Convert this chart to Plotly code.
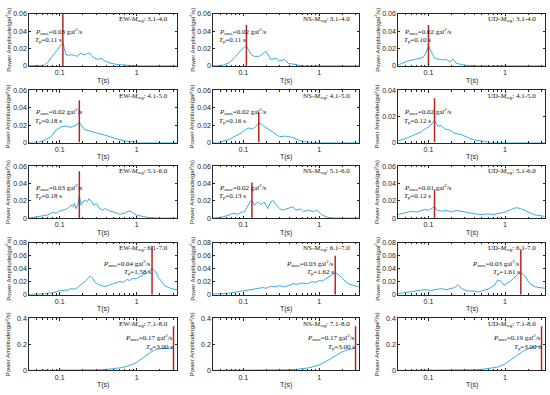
import numpy as np
import plotly.graph_objects as go

# ---------------- data ----------------
components = ["EW", "NS", "UD"]
magnitude_bins = ["3.1-4.0", "4.1-5.0", "5.1-6.0", "6.1-7.0", "7.1-8.0"]

pmax_values = [["0.03", "0.02", "0.02"],
               ["0.02", "0.02", "0.02"],
               ["0.03", "0.02", "0.01"],
               ["0.04", "0.03", "0.03"],
               ["0.17", "0.17", "0.19"]]
tp_values = [[0.11, 0.11, 0.10],
             [0.18, 0.16, 0.12],
             [0.18, 0.13, 0.12],
             [1.58, 1.62, 1.61],
             [3.00, 3.00, 3.00]]
tp_labels = [["0.11", "0.11", "0.10"],
             ["0.18", "0.16", "0.12"],
             ["0.18", "0.13", "0.12"],
             ["1.58", "1.62", "1.61"],
             ["3.00", "3.00", "3.00"]]
peak_line_top = [[0.06, 0.047, 0.047],
                 [0.0486, 0.035, 0.034],
                 [0.054, 0.041, 0.033],
                 [0.075, 0.06, 0.069],
                 [0.34, 0.34, 0.34]]
y_max = [[0.06, 0.06, 0.06],
         [0.06, 0.06, 0.04],
         [0.06, 0.06, 0.06],
         [0.08, 0.08, 0.08],
         [0.4, 0.4, 0.4]]
y_ticks = [[[0, 0.02, 0.04, 0.06]] * 3,
           [[0, 0.02, 0.04, 0.06], [0, 0.02, 0.04, 0.06], [0, 0.02, 0.04]],
           [[0, 0.02, 0.04, 0.06]] * 3,
           [[0, 0.02, 0.04, 0.06, 0.08]] * 3,
           [[0, 0.2, 0.4]] * 3]
x_tick_vals = [0.1, 1]
x_tick_text = ["0.1", "1"]

# row 1 (M 3.1-4.0)
T_EW1 = [0.04, 0.05, 0.06, 0.063, 0.07, 0.077, 0.085, 0.094, 0.10, 0.105, 0.11, 0.115, 0.12, 0.13, 0.14,
         0.155, 0.171, 0.18, 0.189, 0.20, 0.22, 0.243, 0.26, 0.28, 0.31, 0.344, 0.38, 0.46, 0.57, 0.77,
         1.0, 2.0, 3.3]
A_EW1 = [0.0, 0.0, 0.0003, 0.0008, 0.004, 0.0094, 0.014, 0.019, 0.022, 0.025, 0.027, 0.02, 0.0135, 0.012,
         0.013, 0.012, 0.011, 0.0135, 0.015, 0.013, 0.0135, 0.015, 0.012, 0.009, 0.0075, 0.009, 0.006,
         0.003, 0.0015, 0.0005, 0.0, 0.0, 0.0]
T_NS1 = [0.04, 0.044, 0.055, 0.066, 0.08, 0.094, 0.103, 0.11, 0.118, 0.127, 0.14, 0.163, 0.19, 0.20,
         0.23, 0.27, 0.30, 0.35, 0.39, 0.45, 0.61, 1.0, 2.0, 3.3]
A_NS1 = [0.0, 0.0, 0.001, 0.0037, 0.011, 0.0185, 0.021, 0.023, 0.018, 0.013, 0.011, 0.011, 0.0156,
         0.0167, 0.0074, 0.009, 0.0056, 0.0074, 0.003, 0.002, 0.0, 0.0, 0.0, 0.0]
T_UD1 = [0.04, 0.054, 0.066, 0.08, 0.088, 0.094, 0.10, 0.11, 0.12, 0.14, 0.163, 0.17, 0.19, 0.21,
         0.23, 0.30, 0.45, 1.0, 3.3]
A_UD1 = [0.001, 0.0056, 0.0074, 0.009, 0.011, 0.016, 0.023, 0.015, 0.009, 0.0074, 0.0068, 0.008,
         0.0045, 0.008, 0.003, 0.0008, 0.0, 0.0, 0.0]

# row 2 (M 4.1-5.0)
T_EW2 = [0.04, 0.052, 0.063, 0.077, 0.09, 0.104, 0.121, 0.14, 0.163, 0.18, 0.21, 0.256, 0.31, 0.38,
         0.46, 0.57, 0.69, 0.85, 1.05, 2.0, 3.3]
A_EW2 = [0.0, 0.0003, 0.0023, 0.0068, 0.0144, 0.018, 0.019, 0.0175, 0.020, 0.023, 0.015, 0.0125,
         0.0106, 0.0087, 0.006, 0.0038, 0.002, 0.0008, 0.0, 0.0, 0.0]
T_NS2 = [0.04, 0.049, 0.066, 0.08, 0.094, 0.11, 0.12, 0.133, 0.147, 0.16, 0.19, 0.21, 0.25, 0.30,
         0.36, 0.45, 0.54, 0.66, 0.8, 1.5, 3.3]
A_NS2 = [0.0, 0.0002, 0.0037, 0.0074, 0.011, 0.0156, 0.0167, 0.0156, 0.0185, 0.023, 0.0185, 0.0156,
         0.011, 0.0067, 0.0074, 0.0056, 0.0026, 0.0008, 0.0, 0.0, 0.0]
T_UD2 = [0.04, 0.054, 0.066, 0.08, 0.088, 0.104, 0.115, 0.12, 0.133, 0.147, 0.163, 0.19, 0.22, 0.27,
         0.33, 0.40, 0.54, 0.66, 1.0, 3.3]
A_UD2 = [0.0012, 0.0037, 0.006, 0.008, 0.01, 0.0125, 0.0155, 0.017, 0.0125, 0.013, 0.0105, 0.0095,
         0.007, 0.006, 0.0037, 0.002, 0.0008, 0.0, 0.0, 0.0]

# row 3 (M 5.1-6.0)
T_EW3 = [0.04, 0.058, 0.07, 0.081, 0.09, 0.099, 0.114, 0.127, 0.133, 0.14, 0.148, 0.155, 0.163, 0.172,
         0.18, 0.19, 0.20, 0.215, 0.23, 0.24, 0.26, 0.275, 0.30, 0.33, 0.36, 0.39, 0.45, 0.52, 0.60,
         0.70, 0.77, 0.85, 0.97, 1.17, 1.4, 1.9, 3.3]
A_EW3 = [0.0, 0.0019, 0.0037, 0.0067, 0.0056, 0.008, 0.01, 0.011, 0.013, 0.015, 0.013, 0.017, 0.011,
         0.0158, 0.0255, 0.015, 0.019, 0.0206, 0.019, 0.0225, 0.019, 0.015, 0.017, 0.011, 0.0093, 0.011,
         0.008, 0.0067, 0.0045, 0.0056, 0.008, 0.0075, 0.0037, 0.0019, 0.0008, 0.0, 0.0]
T_NS3 = [0.04, 0.054, 0.066, 0.073, 0.085, 0.094, 0.104, 0.115, 0.124, 0.13, 0.14, 0.155, 0.17, 0.19,
         0.21, 0.23, 0.245, 0.27, 0.30, 0.33, 0.38, 0.45, 0.49, 0.57, 0.62, 0.73, 0.84, 0.93, 1.08,
         1.3, 1.6, 3.3]
A_NS3 = [0.0, 0.0015, 0.0037, 0.0056, 0.0044, 0.0067, 0.0074, 0.0148, 0.0195, 0.0204, 0.0148, 0.0185,
         0.0156, 0.0185, 0.011, 0.0185, 0.0204, 0.0155, 0.011, 0.0093, 0.011, 0.013, 0.0093, 0.0104,
         0.0074, 0.0093, 0.0074, 0.0093, 0.0037, 0.0008, 0.0, 0.0]
T_UD3 = [0.04, 0.05, 0.06, 0.07, 0.08, 0.09, 0.10, 0.11, 0.12, 0.13, 0.15, 0.17, 0.20, 0.23, 0.26,
         0.30, 0.35, 0.40, 0.50, 0.60, 0.70, 0.80, 1.0, 1.2, 1.4, 1.6, 1.8, 2.0, 2.4, 3.3]
A_UD3 = [0.004, 0.006, 0.008, 0.007, 0.009, 0.010, 0.009, 0.011, 0.013, 0.009, 0.008, 0.009, 0.007,
         0.009, 0.008, 0.007, 0.006, 0.005, 0.004, 0.005, 0.004, 0.005, 0.007, 0.010, 0.012, 0.011,
         0.009, 0.007, 0.004, 0.002]

# row 4 (M 6.1-7.0)
T_EW4 = [0.04, 0.063, 0.084, 0.1, 0.127, 0.14, 0.155, 0.171, 0.19, 0.20, 0.22, 0.235, 0.25, 0.265,
         0.29, 0.32, 0.35, 0.39, 0.42, 0.46, 0.51, 0.56, 0.61, 0.67, 0.74, 0.81, 0.89, 0.98, 1.07, 1.24,
         1.36, 1.49, 1.58, 1.75, 1.9, 2.3, 2.8, 3.3]
A_EW4 = [0.0005, 0.0014, 0.0033, 0.0065, 0.0071, 0.0094, 0.0085, 0.011, 0.016, 0.0175, 0.022, 0.025,
         0.029, 0.026, 0.0185, 0.0155, 0.014, 0.0125, 0.014, 0.016, 0.0175, 0.019, 0.0205, 0.019, 0.0235,
         0.022, 0.025, 0.0245, 0.027, 0.031, 0.034, 0.038, 0.040, 0.036, 0.027, 0.014, 0.0094, 0.008]
T_NS4 = [0.04, 0.06, 0.08, 0.1, 0.12, 0.15, 0.18, 0.2, 0.23, 0.26, 0.3, 0.35, 0.4, 0.45, 0.5, 0.6,
         0.7, 0.8, 0.9, 1.0, 1.1, 1.3, 1.5, 1.62, 1.8, 2.0, 2.4, 3.3]
A_NS4 = [0.001, 0.002, 0.004, 0.006, 0.008, 0.009, 0.011, 0.010, 0.013, 0.012, 0.014, 0.012, 0.015,
         0.017, 0.016, 0.018, 0.017, 0.020, 0.019, 0.022, 0.021, 0.027, 0.032, 0.034, 0.031, 0.025,
         0.017, 0.012]
T_UD4 = [0.04, 0.054, 0.073, 0.088, 0.11, 0.133, 0.147, 0.17, 0.20, 0.22, 0.245, 0.27, 0.33, 0.40,
         0.45, 0.54, 0.62, 0.73, 0.80, 0.88, 0.97, 1.1, 1.3, 1.5, 1.61, 1.82, 2.1, 2.5, 2.9, 3.3]
A_UD4 = [0.0016, 0.0042, 0.0058, 0.0078, 0.0068, 0.0078, 0.0094, 0.0078, 0.0094, 0.011, 0.0157,
         0.0094, 0.0058, 0.0058, 0.0042, 0.0068, 0.0094, 0.0146, 0.0225, 0.0214, 0.0146, 0.0183,
         0.025, 0.033, 0.034, 0.0288, 0.0173, 0.012, 0.011, 0.010]

# row 5 (M 7.1-8.0)
T_EW5 = [0.04, 0.1, 0.2, 0.3, 0.4, 0.5, 0.6, 0.7, 0.8, 0.9, 1.0, 1.1, 1.2, 1.35, 1.5, 1.7, 1.9, 2.2,
         2.6, 3.0]
A_EW5 = [0.0, 0.0005, 0.002, 0.004, 0.007, 0.012, 0.019, 0.027, 0.036, 0.048, 0.062, 0.08, 0.098,
         0.12, 0.138, 0.155, 0.164, 0.169, 0.17, 0.17]
T_NS5 = [0.04, 0.1, 0.2, 0.3, 0.4, 0.5, 0.6, 0.7, 0.8, 0.9, 1.0, 1.2, 1.4, 1.6, 1.8, 2.0, 2.4, 2.7, 3.0]
A_NS5 = [0.0, 0.0005, 0.0015, 0.003, 0.005, 0.008, 0.012, 0.018, 0.025, 0.033, 0.043, 0.065, 0.09,
         0.112, 0.13, 0.143, 0.16, 0.167, 0.17]
T_UD5 = [0.04, 0.1, 0.2, 0.3, 0.4, 0.5, 0.6, 0.7, 0.8, 0.97, 1.17, 1.4, 1.7, 2.1, 2.5, 3.0]
A_UD5 = [0.0, 0.0003, 0.001, 0.003, 0.005, 0.008, 0.0125, 0.018, 0.025, 0.045, 0.075, 0.11, 0.145,
         0.17, 0.182, 0.19]

periods = [[T_EW1, T_NS1, T_UD1], [T_EW2, T_NS2, T_UD2], [T_EW3, T_NS3, T_UD3],
           [T_EW4, T_NS4, T_UD4], [T_EW5, T_NS5, T_UD5]]
amplitudes = [[A_EW1, A_NS1, A_UD1], [A_EW2, A_NS2, A_UD2], [A_EW3, A_NS3, A_UD3],
              [A_EW4, A_NS4, A_UD4], [A_EW5, A_NS5, A_UD5]]

# ---------------- styling / layout ----------------
W, H = 550, 395
BLUE = "#38ade0"
RED = "#b3261e"
AXC = "#262626"
SANS = "Liberation Sans, Arial, sans-serif"
SERIF = "Liberation Serif, Times New Roman, serif"

col_px = [(29, 177), (213, 359), (398, 545)]
row_px = [(10, 63), (88, 141), (165, 218), (243, 296), (320, 373)]
x_range = [np.log10(0.04), np.log10(3.33)]
minor_vals = [0.04, 0.05, 0.06, 0.07, 0.08, 0.09, 0.2, 0.3, 0.4, 0.5, 0.6, 0.7, 0.8, 0.9, 2, 3]

fig = go.Figure()
annotations = []
layout = {}

for r in range(5):
    for c in range(3):
        k = r * 3 + c + 1
        xn = "x" if k == 1 else f"x{k}"
        yn = "y" if k == 1 else f"y{k}"
        xkey = "xaxis" if k == 1 else f"xaxis{k}"
        ykey = "yaxis" if k == 1 else f"yaxis{k}"
        x0, x1 = col_px[c]
        t0, t1 = row_px[r]

        fig.add_trace(go.Scatter(x=periods[r][c], y=amplitudes[r][c], mode="lines",
                                 line=dict(color=BLUE, width=1), xaxis=xn, yaxis=yn,
                                 showlegend=False, hoverinfo="skip"))
        tp = tp_values[r][c]
        fig.add_trace(go.Scatter(x=[tp, tp], y=[0, peak_line_top[r][c]], mode="lines",
                                 line=dict(color=RED, width=1.5), xaxis=xn, yaxis=yn,
                                 showlegend=False, hoverinfo="skip"))

        layout[xkey] = dict(type="log", range=x_range, domain=[x0 / W, x1 / W], anchor=yn,
                            tickmode="array", tickvals=x_tick_vals, ticktext=x_tick_text,
                            ticks="inside", ticklen=2.5, tickwidth=0.6, tickcolor=AXC,
                            mirror="ticks", showline=True, linecolor=AXC, linewidth=0.6,
                            showgrid=False, zeroline=False,
                            tickfont=dict(family=SANS, size=7, color="#222"),
                            minor=dict(tickmode="array", tickvals=minor_vals, ticks="inside",
                                       ticklen=1.5, tickwidth=0.5, tickcolor=AXC, showgrid=False))
        layout[ykey] = dict(range=[0, y_max[r][c]], domain=[1 - t1 / H, 1 - t0 / H], anchor=xn,
                            tickmode="array", tickvals=y_ticks[r][c],
                            ticktext=[("0" if v == 0 else f"{v:g}") for v in y_ticks[r][c]],
                            ticks="inside", ticklen=2.5, tickwidth=0.6, tickcolor=AXC,
                            mirror="ticks", showline=True, linecolor=AXC, linewidth=0.6,
                            showgrid=False, zeroline=False,
                            tickfont=dict(family=SANS, size=7, color="#222"))

        # panel title
        annotations.append(dict(
            text=f"{components[c]}-<i>M</i><sub>wg</sub>: {magnitude_bins[r]}",
            xref=f"{xn} domain", yref=f"{yn} domain", x=1, y=0.9, xanchor="right",
            yanchor="middle", xshift=-7, showarrow=False,
            font=dict(family=SERIF, size=7, color="#111")))

        # Pmax / Tp text
        ym = y_max[r][c]
        if r < 3:
            ax_kw = dict(xref=f"{xn} domain", x=0, xanchor="left", xshift=4)
            if r == 0:
                yp, yt = 0.66 * ym, 0.49 * ym
            elif r == 1 and c == 2:
                yp, yt = 0.6 * ym, 0.41 * ym
            else:
                yp, yt = 0.59 * ym, 0.42 * ym
        else:
            ax_kw = dict(xref=xn, x=np.log10(tp), xanchor="right", xshift=1)
            if r == 3:
                yp, yt = 0.6 * ym, 0.43 * ym
            else:
                yp, yt = 0.63 * ym, 0.45 * ym
        annotations.append(dict(
            text=f"<i>P</i><sub>max</sub>={pmax_values[r][c]} gal<sup>2</sup>/s",
            yref=yn, y=yp, yanchor="middle", showarrow=False,
            font=dict(family=SERIF, size=7, color="#111"), **ax_kw))
        annotations.append(dict(
            text=f"<i>T</i><sub>p</sub>={tp_labels[r][c]} s",
            yref=yn, y=yt, yanchor="middle", showarrow=False,
            font=dict(family=SERIF, size=7, color="#111"), **ax_kw))

        # axis titles
        annotations.append(dict(
            text="Power Amplitude(gal<sup>2</sup>/s)", textangle=-90,
            xref="paper", yref="paper", x=(x0 - 21) / W, y=1 - (t0 + t1) / 2 / H,
            xanchor="center", yanchor="middle", showarrow=False,
            font=dict(family=SANS, size=6, color="#222")))
        annotations.append(dict(
            text="T(s)", xref="paper", yref="paper", x=(x0 + x1) / 2 / W, y=1 - (t1 + 15) / H,
            xanchor="center", yanchor="middle", showarrow=False,
            font=dict(family=SANS, size=7, color="#222")))

fig.update_layout(width=W, height=H, margin=dict(l=0, r=0, t=0, b=0), autosize=False,
                  paper_bgcolor="white", plot_bgcolor="white", showlegend=False,
                  annotations=annotations, **layout)

fig.write_html("out.html", config={"displayModeBar": False},
               post_script="document.body.style.margin='0';document.body.style.overflow='hidden';")
